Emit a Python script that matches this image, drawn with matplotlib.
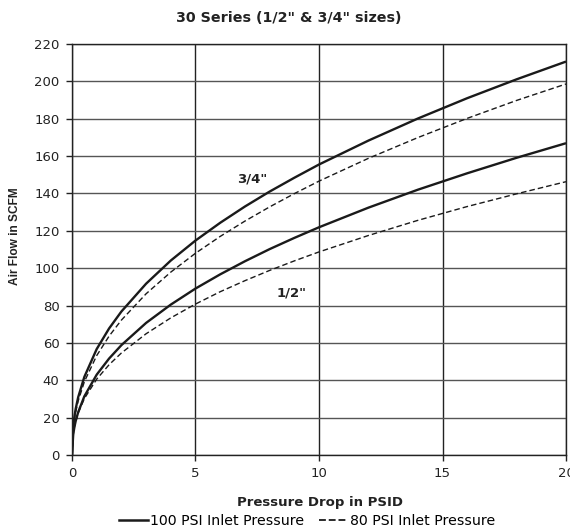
import matplotlib
matplotlib.use("Agg")
import matplotlib.pyplot as plt
from matplotlib.lines import Line2D

plt.rcParams['font.family'] = ['DejaVu Sans']

x_vals = [0, 0.05, 0.1, 0.15, 0.25, 0.5, 1, 1.5, 2, 3, 4, 5, 6, 7, 8, 9, 10, 12, 14, 16, 18, 20]
half_100 = [0, 11.1, 15.1, 18.2, 22.9, 31.4, 43.0, 51.6, 58.8, 70.7, 80.5, 89.1, 96.7, 103.7, 110.2, 116.2, 121.9, 132.4, 142.0, 150.8, 159.1, 166.9]
half_80 = [0, 11.3, 15.1, 18.0, 22.4, 30.2, 40.6, 48.3, 54.6, 64.9, 73.4, 80.8, 87.4, 93.3, 98.8, 103.9, 108.7, 117.5, 125.6, 133.0, 139.8, 146.3]
tq_100 = [0, 15.3, 20.7, 24.7, 30.9, 41.8, 56.7, 67.7, 76.8, 91.7, 104.1, 114.8, 124.3, 133.0, 141.0, 148.4, 155.5, 168.3, 180.1, 191.0, 201.1, 210.6]
tq_80 = [0, 14.2, 19.3, 23.1, 28.9, 39.2, 53.2, 63.6, 72.2, 86.3, 97.9, 108.0, 117.0, 125.2, 132.8, 139.9, 146.6, 158.8, 169.9, 180.2, 189.8, 198.6]

x_ticks = [0, 5, 10, 15, 20]
y_ticks = list(range(0, 221, 20))

title = '30 Series (1/2" & 3/4" sizes)'
xlabel = 'Pressure Drop in PSID'
ylabel = 'Air Flow in SCFM'
legend_labels = ['100 PSI Inlet Pressure', '80 PSI Inlet Pressure']

fig = plt.figure(figsize=(5.70, 5.29), dpi=100)
ax = fig.add_axes([0.1263, 0.1399, 0.8667, 0.7769])

c = '#1a1a1a'
ax.plot(x_vals, tq_100, color=c, lw=1.7, solid_capstyle='butt')
ax.plot(x_vals, tq_80, color=c, lw=1.0, linestyle=(0, (4, 2.2)))
ax.plot(x_vals, half_100, color=c, lw=1.7, solid_capstyle='butt')
ax.plot(x_vals, half_80, color=c, lw=1.0, linestyle=(0, (4, 2.2)))

ax.set_xlim(0, 20)
ax.set_ylim(0, 220)
ax.set_xticks(x_ticks)
ax.set_yticks(y_ticks)
ax.tick_params(direction='out', length=4, width=1.0, color='#222', labelsize=9.5, labelcolor='#222', pad=5)
ax.xaxis.grid(True, color='#222', lw=1.0)
ax.yaxis.grid(True, color='#555', lw=1.0)
ax.set_axisbelow(True)
for s in ax.spines.values():
    s.set_color('#222')
    s.set_linewidth(1.0)

ax.text(7.3, 148, '3/4"', fontsize=9.5, fontweight='bold', ha='center', va='center', color='#222')
ax.text(8.9, 86.5, '1/2"', fontsize=9.5, fontweight='bold', ha='center', va='center', color='#222')

fig.text(0.507, 0.966, title, fontsize=10.3, fontweight='bold', ha='center', va='center', color='#222')
fig.text(0.561, 0.051, xlabel, fontsize=9.5, fontweight='bold', ha='center', va='center', color='#222')
fig.text(0.026, 0.553, ylabel, fontsize=8.6, fontweight='bold', ha='center', va='center', rotation=90,
         color='#222', family='Liberation Sans')

handles = [Line2D([], [], color=c, lw=1.8),
           Line2D([], [], color=c, lw=1.3, linestyle=(0, (3.8, 1.6)))]
fig.legend(handles, legend_labels, loc='center', bbox_to_anchor=(0.539, 0.016), ncol=2,
           frameon=False, fontsize=10.2, handlelength=2.0, handletextpad=0.2,
           columnspacing=1.0, borderpad=0, borderaxespad=0)

fig.savefig('out.png', dpi=100)
